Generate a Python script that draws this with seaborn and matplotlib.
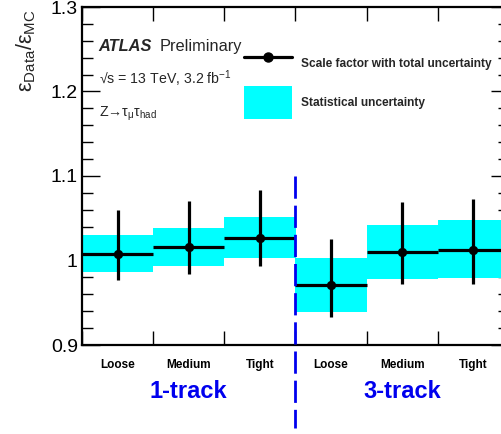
import numpy as np
import pandas as pd
import matplotlib
matplotlib.use("Agg")
import matplotlib.pyplot as plt
from matplotlib.lines import Line2D
from matplotlib.patches import Patch
from matplotlib.ticker import MultipleLocator, FixedLocator, FuncFormatter
import seaborn as sns

# Tau identification scale factors per working point
working_points = ["Loose", "Medium", "Tight", "Loose", "Medium", "Tight"]
prong_groups = ["1-track", "3-track"]
scale_factor = [1.008, 1.016, 1.027, 0.971, 1.010, 1.013]
total_up = [1.060, 1.070, 1.083, 1.026, 1.069, 1.073]
total_down = [0.977, 0.984, 0.993, 0.933, 0.972, 0.972]
stat_up = [1.030, 1.039, 1.051, 1.003, 1.042, 1.048]
stat_down = [0.986, 0.993, 1.003, 0.939, 0.978, 0.979]

sns.set_theme(style="ticks")
plt.rcParams["font.family"] = ["Liberation Sans", "DejaVu Sans"]
plt.rcParams["mathtext.fontset"] = "custom"
plt.rcParams["mathtext.rm"] = "Liberation Sans"
plt.rcParams["mathtext.it"] = "Liberation Sans:italic"
plt.rcParams["mathtext.bf"] = "Liberation Sans:bold"

df = pd.DataFrame({
    "bin": np.arange(len(scale_factor)),
    "sf": scale_factor,
    "up": total_up,
    "down": total_down,
    "stat_up": stat_up,
    "stat_down": stat_down,
})

W, H = 501, 434
fig = plt.figure(figsize=(W / 100, H / 100), dpi=100)
ax = fig.add_axes([82 / W, (H - 345) / H, 427 / W, 338 / H])

cyan = "#00FFFF"
ax.bar(df["bin"], df["stat_up"] - df["stat_down"], bottom=df["stat_down"],
       width=1.0, color=cyan, edgecolor="none", zorder=1)
ax.errorbar(df["bin"], df["sf"],
            yerr=[df["sf"] - df["down"], df["up"] - df["sf"]],
            xerr=0.5, fmt="none", ecolor="black", elinewidth=2.3,
            capsize=0, zorder=3)
sns.scatterplot(data=df, x="bin", y="sf", ax=ax, color="black", s=45,
                edgecolor="black", linewidth=0, zorder=4, legend=False)

ax.set_xlim(-0.5, 5.5)
ax.set_ylim(0.9, 1.3)
ax.set_xlabel("")
ax.set_ylabel("")

# Axis ticks on all four sides, pointing inward
ax.xaxis.set_major_locator(FixedLocator(np.arange(-0.5, 6.0, 1.0)))
ax.yaxis.set_major_locator(MultipleLocator(0.1))
ax.yaxis.set_minor_locator(MultipleLocator(0.02))
ax.tick_params(axis="both", which="both", direction="in",
               top=True, right=True, color="black", width=1.0)
ax.tick_params(axis="x", which="major", length=10, labelbottom=False)
ax.tick_params(axis="y", which="major", length=13, labelsize=14, pad=3,
               labelcolor="black")
ax.tick_params(axis="y", which="minor", length=8)
ax.yaxis.set_major_formatter(FuncFormatter(lambda v, p: f"{v:g}"))
for sp in ax.spines.values():
    sp.set_color("black")
    sp.set_linewidth(1.6)

fig.text(26 / W, 1 - 9 / H,
         r"$\mathrm{ε_{Data}/ε_{MC}}$",
         rotation=90, ha="center", va="top", fontsize=15.5)

# Working-point and track-multiplicity labels under the axis
for i, wp in enumerate(working_points):
    ax.text(i, 0.876, wp, ha="center", va="center", fontsize=8.5,
            fontweight="bold", color="black", clip_on=False)
for g, name in enumerate(prong_groups):
    ax.text(1.0 + 3 * g, 0.8445, name, ha="center", va="center",
            fontsize=17, fontweight="bold", color="#0000EE", clip_on=False)

ax.plot([2.5, 2.5], [1.1, 0.802], color="#0000EE", lw=2.0,
        dashes=(8, 2.5), clip_on=False, zorder=5)

# Experiment labels
ax.text(-0.275, 1.253, "ATLAS", fontsize=11.8, fontweight="bold",
        fontstyle="italic", ha="left", va="center")
ax.text(0.596, 1.253, "Preliminary", fontsize=11.8, ha="left", va="center")
ax.text(-0.265, 1.215, r"√s = 13 TeV, 3.2 fb$^{\mathrm{-1}}$",
        fontsize=10.2, ha="left", va="center")
ax.text(-0.265, 1.1736, r"Z→τ$_{\mathrm{μ}}$τ$_{\mathrm{had}}$",
        fontsize=10.2, ha="left", va="center")

handles = [
    Line2D([0], [0], color="black", lw=2.3, marker="o", markersize=6.5),
    Patch(facecolor=cyan, edgecolor="none"),
]
labels = ["Scale factor with total uncertainty", "Statistical uncertainty"]
leg = ax.legend(handles, labels, loc="upper left",
                bbox_to_anchor=(0.354, 0.912), frameon=False,
                prop={"weight": "bold", "size": 8.6},
                handlelength=4.0, handleheight=3.9, labelspacing=0.45,
                handletextpad=0.75, borderpad=0.4)

fig.savefig("out.png", dpi=100)
